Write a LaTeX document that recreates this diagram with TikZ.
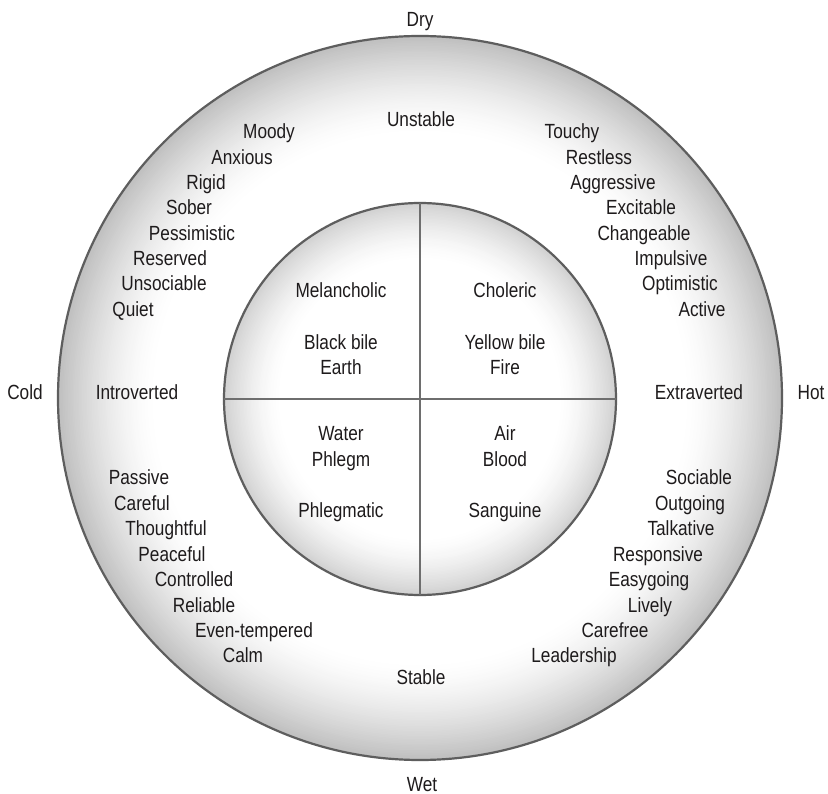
\documentclass[tikz,border=0pt]{standalone}
\usepackage{fontspec}
\setmainfont{Liberation Sans}[FakeStretch=0.84]

\definecolor{txt}{HTML}{1E1B1C}
\definecolor{rim}{HTML}{5E5E5E}

\tikzset{
  disc/.style={circle, inner sep=0pt, outer sep=0pt, draw=rim, line width=2.2pt},
  lbl/.style={anchor=base, inner sep=0pt, text=txt, font=\fontsize{20.5}{24}\selectfont},
  divider/.style={draw=rim!90, line width=2pt}
}

\begin{document}
\begin{tikzpicture}[x=1pt, y=-1pt]
  \fill[white] (0,0) rectangle (828,794);
  \useasboundingbox (0,0) rectangle (828,794);

  \coordinate (oc) at (420,398);
  \coordinate (ic) at (420,399);

  % grey rim fading to a white centre, built from concentric fills
  \foreach \i in {0,...,60} {
    \pgfmathsetmacro\rr{362-\i*1.6}
    \pgfmathsetmacro\pp{25*(1-\i/60)^1.5}
    \fill[black!\pp] (oc) circle[radius=\rr pt];
  }
  \foreach \i in {0,...,40} {
    \pgfmathsetmacro\rr{196-\i*1.4}
    \pgfmathsetmacro\pp{18*(1-\i/40)^1.5}
    \fill[black!\pp] (ic) circle[radius=\rr pt];
  }

  % outer ring and inner four-part disc
  \node[disc, minimum size=724pt] (outer) at (oc) {};
  \node[disc, minimum size=392pt] (inner) at (ic) {};
  \draw[divider] (inner.north) -- (inner.south);
  \draw[divider] (inner.west) -- (inner.east);

  % qualities around the rim
  \node[lbl] (dry)  at (420,27)  {Dry};
  \node[lbl] (wet)  at (422,791) {Wet};
  \node[lbl] (cold) at (25,400)  {Cold};
  \node[lbl] (hot)  at (811,400) {Hot};

  % the two axes
  \node[lbl] (unstable) at (421,127) {Unstable};
  \node[lbl] (stable)   at (421,684) {Stable};
  \node[lbl] (introv)   at (137,400) {Introverted};
  \node[lbl] (extrav)   at (699,400) {Extraverted};

  % unstable / introverted quadrant
  \node[lbl] (ui1) at (269,139.0) {Moody};
  \node[lbl] (ui2) at (242,164.3) {Anxious};
  \node[lbl] (ui3) at (206,189.6) {Rigid};
  \node[lbl] (ui4) at (189,214.9) {Sober};
  \node[lbl] (ui5) at (192,240.2) {Pessimistic};
  \node[lbl] (ui6) at (170,265.5) {Reserved};
  \node[lbl] (ui7) at (164,290.8) {Unsociable};
  \node[lbl] (ui8) at (133,316.1) {Quiet};

  % unstable / extraverted quadrant
  \node[lbl] (ue1) at (572,139.0) {Touchy};
  \node[lbl] (ue2) at (599,164.3) {Restless};
  \node[lbl] (ue3) at (613,189.6) {Aggressive};
  \node[lbl] (ue4) at (641,214.9) {Excitable};
  \node[lbl] (ue5) at (644,240.2) {Changeable};
  \node[lbl] (ue6) at (671,265.5) {Impulsive};
  \node[lbl] (ue7) at (680,290.8) {Optimistic};
  \node[lbl] (ue8) at (702,316.1) {Active};

  % stable / introverted quadrant
  \node[lbl] (si1) at (139,485.0) {Passive};
  \node[lbl] (si2) at (142,510.4) {Careful};
  \node[lbl] (si3) at (166,535.8) {Thoughtful};
  \node[lbl] (si4) at (172,561.2) {Peaceful};
  \node[lbl] (si5) at (194,586.6) {Controlled};
  \node[lbl] (si6) at (204,612.0) {Reliable};
  \node[lbl] (si7) at (254,637.4) {Even-tempered};
  \node[lbl] (si8) at (243,662.8) {Calm};

  % stable / extraverted quadrant
  \node[lbl] (se1) at (699,485.0) {Sociable};
  \node[lbl] (se2) at (690,510.4) {Outgoing};
  \node[lbl] (se3) at (681,535.8) {Talkative};
  \node[lbl] (se4) at (658,561.2) {Responsive};
  \node[lbl] (se5) at (649,586.6) {Easygoing};
  \node[lbl] (se6) at (650,612.0) {Lively};
  \node[lbl] (se7) at (615,637.4) {Carefree};
  \node[lbl] (se8) at (574,662.8) {Leadership};

  % the four temperaments
  \node[lbl] (mel)  at (341,298) {Melancholic};
  \node[lbl] (mel2) at (341,350) {Black bile};
  \node[lbl] (mel3) at (341,375) {Earth};
  \node[lbl] (cho)  at (505,298) {Choleric};
  \node[lbl] (cho2) at (505,350) {Yellow bile};
  \node[lbl] (cho3) at (505,375) {Fire};
  \node[lbl] (phl3) at (341,441) {Water};
  \node[lbl] (phl2) at (341,466) {Phlegm};
  \node[lbl] (phl)  at (341,517) {Phlegmatic};
  \node[lbl] (san3) at (505,441) {Air};
  \node[lbl] (san2) at (505,466) {Blood};
  \node[lbl] (san)  at (505,517) {Sanguine};
\end{tikzpicture}
\end{document}
